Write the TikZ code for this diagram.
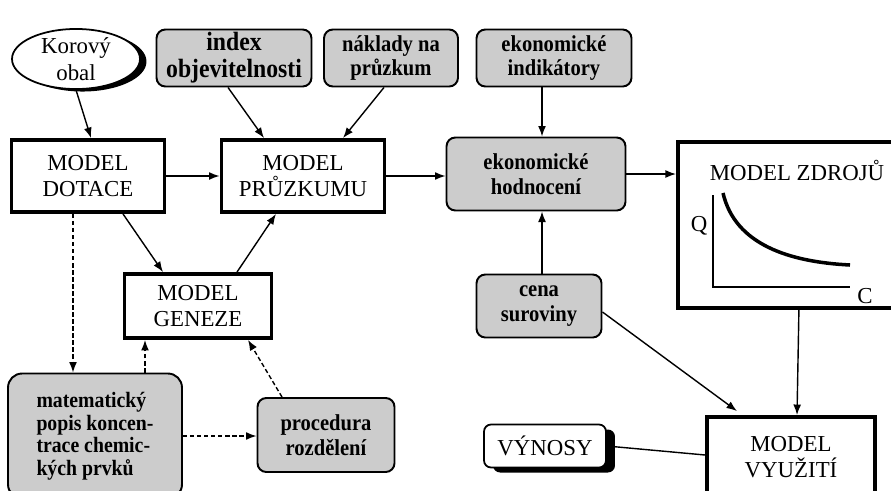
\documentclass[tikz,border=0pt]{standalone}
\usepackage{fontspec}
\setmainfont{Liberation Serif}
\newfontfamily\greyfont[FakeStretch=0.9]{Liberation Serif}
\usetikzlibrary{
    arrows.meta,
    shapes.geometric,
    shadows,
    positioning,
    calc
}

\begin{document}
\begin{tikzpicture}[x=0.02cm, y=-0.02cm,
        model/.style={draw, line width=2.2pt, fill=white, align=center, inner sep=0pt,
            font=\fontsize{13}{15}\selectfont},
        greybox/.style={draw, line width=1.1pt, rounded corners=5pt, fill=black!20,
            align=center, inner sep=0pt, font=\greyfont\fontsize{13}{14}\selectfont\bfseries},
        arr/.style={-{Latex[length=6pt,width=4.5pt]}, line width=0.8pt},
        darr/.style={arr, dash pattern=on 2.5pt off 1.5pt}]
    \useasboundingbox (0,0) rectangle (891,490);
    \clip (0,0) rectangle (891,490);

    % inputs along the top
    \node[draw, ellipse, line width=1pt, fill=white, inner sep=0pt,
        minimum width=2.56cm, minimum height=1.16cm, align=center,
        font=\fontsize{13}{15}\selectfont,
        drop shadow={fill=black, opacity=1, shadow xshift=0.13cm, shadow yshift=-0.05cm}]
        (kor) at (76,59) {Korový\\obal};
    \node[greybox, minimum width=3.1cm, minimum height=1.14cm,
        font=\greyfont\fontsize{15}{15.5}\selectfont\bfseries] (idx) at (234,58) {index\\objevitelnosti};
    \node[greybox, minimum width=2.68cm, minimum height=1.14cm] (nak) at (391,58) {náklady na\\průzkum};
    \node[greybox, minimum width=3.1cm, minimum height=1.14cm] (ind) at (554,58) {ekonomické\\indikátory};

    % middle row
    \node[model, minimum width=3.06cm, minimum height=1.44cm] (dot) at (88,176) {MODEL\\DOTACE};
    \node[model, minimum width=3.26cm, minimum height=1.44cm] (prz) at (303,176) {MODEL\\PRŮZKUMU};
    \node[greybox, minimum width=3.58cm, minimum height=1.46cm] (hod) at (536,174) {ekonomické\\hodnocení};
    \node[model, minimum width=4.6cm, minimum height=3.32cm, anchor=north west] (zdr) at (676,140) {};
    \node[font=\fontsize{13}{15}\selectfont] (zdrt) at (797,170) {MODEL ZDROJŮ};
    \node[font=\fontsize{13}{15}\selectfont] (zq) at (699,226) {Q};
    \node[font=\fontsize{13}{15}\selectfont] (zc) at (865,296) {C};
    \draw[line width=0.8pt] (713,195) |- (850,287);
    \draw[line width=2pt] (723,193) .. controls (735,245) and (790,262) .. (850,265);

    \node[model, minimum width=2.94cm, minimum height=1.28cm] (gen) at (198,306) {MODEL\\GENEZE};
    \node[greybox, minimum width=2.5cm, minimum height=1.26cm] (cen) at (539,306) {cena\\suroviny};

    % bottom row
    \node[greybox, rounded corners=8pt, minimum width=3.48cm, minimum height=2.5cm, align=left,
        font=\greyfont\fontsize{12.5}{12.8}\selectfont\bfseries]
        (mat) at (95,436) {matematický\\popis koncen-\\trace chemic-\\kých prvků};
    \node[greybox, minimum width=2.74cm, minimum height=1.48cm] (pro) at (326,435) {procedura\\rozdělení};
    \node[draw, line width=1pt, rounded corners=4pt, fill=white, inner sep=0pt,
        minimum width=2.44cm, minimum height=0.86cm, font=\fontsize{13}{15}\selectfont,
        drop shadow={fill=black, opacity=1, shadow xshift=0.18cm, shadow yshift=-0.1cm}]
        (vyn) at (545,446) {VÝNOSY};
    \node[model, minimum width=3.36cm, minimum height=1.6cm] (vyu) at (791,457) {MODEL\\VYUŽITÍ};

    \draw[arr] (kor.south) -- ($(dot.north)+(3,0)$);
    \draw[arr] ($(idx.south)+(-6,0)$) -- ($(prz.north)+(-39,0)$);
    \draw[arr] ($(nak.south)+(-7,0)$) -- ($(prz.north)+(40,0)$);
    \draw[arr] (dot.east) -- (dot.east -| prz.west);
    \draw[arr] (prz.east) -- (prz.east -| hod.west);
    \draw[arr] ($(ind.south)+(-12,0)$) -- ($(hod.north)+(6,0)$);
    \draw[arr] (hod.east) -- (hod.east -| zdr.west);
    \draw[arr] ($(dot.south)+(35,0)$) -- ($(gen.north)+(-35,0)$);
    \draw[arr] ($(gen.north)+(39,0)$) -- ($(prz.south)+(-27,0)$);
    \draw[arr] ($(cen.north)+(3,0)$) -- ($(hod.south)+(6,0)$);
    \draw[arr] ($(cen.east)+(0,6)$) -- ($(vyu.north)+(-54,-4)$);
    \draw[arr] ($(zdr.south)+(6,0)$) -- ($(vyu.north)+(6,0)$);
    \draw[line width=0.8pt] (vyn.east) -- ($(vyu.west)+(0,-2)$);

    \draw[darr] ($(dot.south)+(-15,0)$) -- ($(mat.north)+(-22,0)$);
    \draw[darr] ($(mat.north)+(50,0)$) -- ($(gen.south)+(-53,0)$);
    \draw[darr] ($(pro.north)+(-44,0)$) -- ($(gen.south)+(50,0)$);
    \draw[darr] (mat.east) -- (mat.east -| pro.west);
\end{tikzpicture}
\end{document}
